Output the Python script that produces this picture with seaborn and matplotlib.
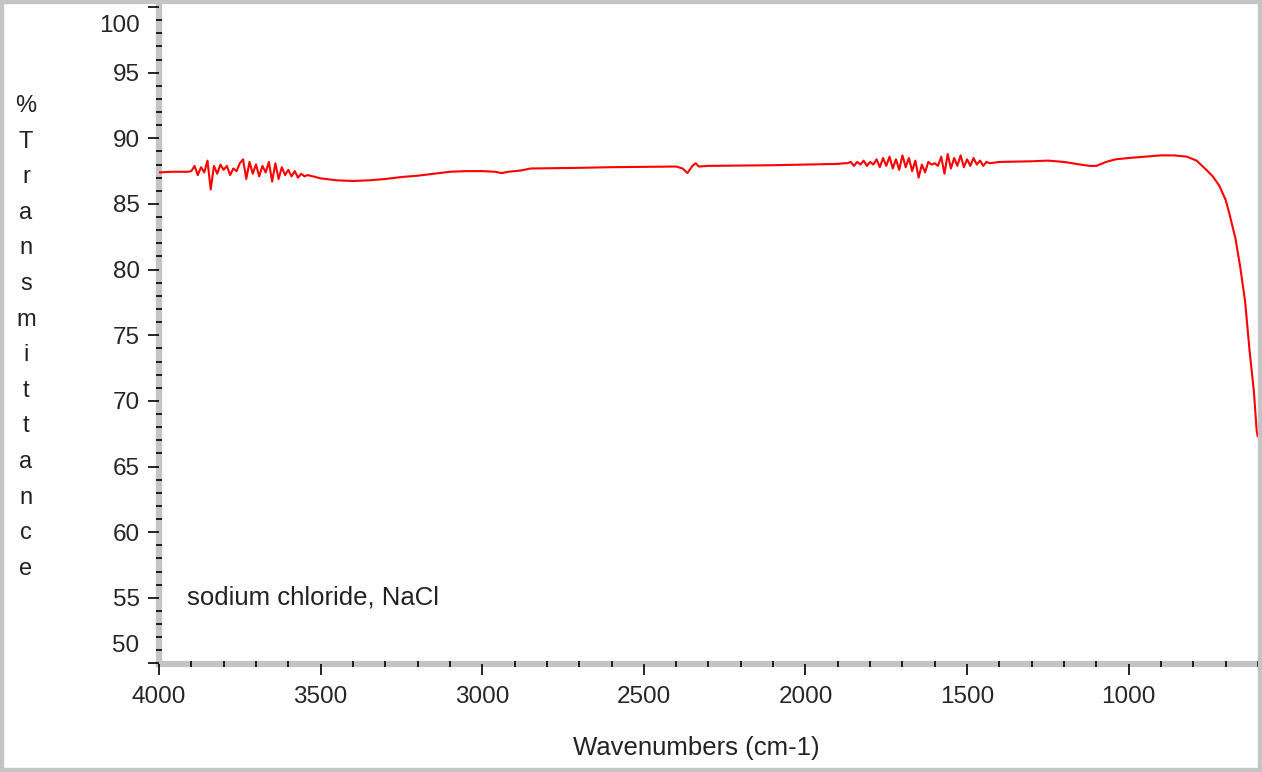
import seaborn as sns
import pandas as pd
import numpy as np
import matplotlib.pyplot as plt
from matplotlib.patches import Rectangle
from matplotlib.ticker import MultipleLocator
from matplotlib.transforms import ScaledTranslation

# smooth part of the spectrum (wavenumber, %T)
wn_start = [4000, 3960, 3910]
t_start = [87.4, 87.45, 87.45]

# noisy band 1 (O-H region)
wn_noise1 = [3900, 3890, 3880, 3870, 3860, 3850, 3840, 3830, 3820, 3810,
             3800, 3790, 3780, 3770, 3760, 3750, 3740, 3730, 3720, 3710,
             3700, 3690, 3680, 3670, 3660, 3650, 3640, 3630, 3620, 3610,
             3600, 3590, 3580, 3570, 3560, 3550, 3540]
t_noise1 = [87.5, 87.9, 87.2, 87.8, 87.4, 88.3, 86.1, 87.9, 87.3, 88.0,
            87.6, 87.9, 87.2, 87.7, 87.5, 88.1, 88.4, 86.9, 88.2, 87.3,
            88.0, 87.1, 87.9, 87.4, 88.2, 86.7, 88.1, 86.9, 87.8, 87.2,
            87.6, 87.1, 87.5, 87.0, 87.3, 87.1, 87.2]

wn_mid = [3500, 3450, 3400, 3350, 3300, 3250, 3200, 3150, 3100, 3050,
          3000, 2960, 2940, 2920, 2880, 2850, 2700, 2600, 2400, 2380,
          2365, 2350, 2340, 2330, 2300, 2100, 2000, 1900, 1880]
t_mid = [86.95, 86.8, 86.75, 86.8, 86.9, 87.05, 87.15, 87.3, 87.45, 87.5,
         87.5, 87.45, 87.35, 87.45, 87.55, 87.7, 87.75, 87.8, 87.85, 87.7,
         87.35, 87.9, 88.1, 87.85, 87.9, 87.95, 88.0, 88.05, 88.1]

# noisy band 2 (water bending region)
wn_noise2 = [1870, 1860, 1850, 1840, 1830, 1820, 1810, 1800, 1790, 1780,
             1770, 1760, 1750, 1740, 1730, 1720, 1710, 1700, 1690, 1680,
             1670, 1660, 1650, 1640, 1630, 1620, 1610, 1600, 1590, 1580,
             1570, 1560, 1550, 1540, 1530, 1520, 1510, 1500, 1490, 1480,
             1470, 1460, 1450, 1440, 1430]
t_noise2 = [88.1, 88.2, 87.9, 88.2, 88.0, 88.3, 87.9, 88.2, 88.0, 88.4,
            87.8, 88.5, 87.9, 88.6, 87.7, 88.4, 87.6, 88.7, 87.8, 88.5,
            87.5, 88.3, 87.0, 88.0, 87.4, 88.2, 88.0, 88.1, 87.9, 88.6,
            87.3, 88.8, 87.7, 88.5, 87.9, 88.7, 87.8, 88.4, 87.9, 88.5,
            88.0, 88.3, 87.9, 88.2, 88.1]

wn_end = [1400, 1300, 1250, 1200, 1150, 1120, 1100, 1070, 1040, 1000,
          950, 900, 860, 820, 790, 760, 740, 720, 700, 690,
          670, 655, 640, 626, 613, 604, 601]
t_end = [88.2, 88.25, 88.3, 88.2, 88.0, 87.9, 87.9, 88.2, 88.4, 88.5,
         88.6, 88.7, 88.7, 88.6, 88.3, 87.6, 87.1, 86.4, 85.3, 84.4,
         82.4, 80.2, 77.6, 73.8, 70.8, 67.7, 67.3]

y_letters = ['%', 'T', 'r', 'a', 'n', 's', 'm', 'i', 't', 't', 'a', 'n', 'c', 'e']
sample_name = 'sodium chloride, NaCl'

df = pd.DataFrame({
    'wn': wn_start + wn_noise1 + wn_mid + wn_noise2 + wn_end,
    'T': t_start + t_noise1 + t_mid + t_noise2 + t_end,
})

sns.set_style('white')
plt.rcParams['font.family'] = ['Liberation Sans', 'DejaVu Sans']

W, H = 1262, 772
fig = plt.figure(figsize=(W / 100, H / 100), dpi=100)
ax = fig.add_axes([159 / W, 1 - 663.5 / H, (1258 - 159) / W, (663.5 - 7) / H])

sns.lineplot(data=df, x='wn', y='T', ax=ax, color='#ff0000', linewidth=1.5,
             estimator=None, sort=False)

ax.set_xlim(4000, 600)
ax.set_ylim(50, 100)
ax.xaxis.set_major_locator(MultipleLocator(500))
ax.xaxis.set_minor_locator(MultipleLocator(100))
ax.yaxis.set_major_locator(MultipleLocator(5))
ax.yaxis.set_minor_locator(MultipleLocator(1))

for s in ['top', 'right']:
    ax.spines[s].set_visible(False)
for s in ['left', 'bottom']:
    ax.spines[s].set_color('#c4c4c4')
    ax.spines[s].set_linewidth(4.5)
    ax.spines[s].set_zorder(0)

ax.tick_params(which='major', direction='out', length=8, width=1.2, color='black',
               labelsize=17.5, pad=6, left=True, bottom=True)
ax.tick_params(axis='x', which='major', pad=8)
ax.tick_params(which='minor', direction='inout', length=4, width=1.2, color='black',
               left=True, bottom=True)
ax.set_xlabel('')
ax.set_ylabel('')

# first and last y labels are nudged inside the axis like in the original
fig.canvas.draw()
for lab in ax.get_yticklabels():
    if lab.get_text() == '100':
        lab.set_transform(lab.get_transform() + ScaledTranslation(0, -0.17, fig.dpi_scale_trans))
    elif lab.get_text() == '50':
        lab.set_transform(lab.get_transform() + ScaledTranslation(0, 0.20, fig.dpi_scale_trans))

ax.text(0.0255, 0.1, sample_name, transform=ax.transAxes, fontsize=18.5,
        color='#222222', va='center', ha='left')

fig.text(696 / W, 1 - 748 / H, 'Wavenumbers (cm-1)', fontsize=18.5,
         ha='center', va='center', color='#222222')
fig.text(26 / W, 1 - 337.5 / H, '\n'.join(y_letters), fontsize=17,
         ha='center', va='center', linespacing=1.8, color='#222222')

fig.patches.append(Rectangle((0, 0), 1, 1, transform=fig.transFigure, fill=False,
                             edgecolor='#c4c4c4', linewidth=6, zorder=10))

fig.savefig('out.png', dpi=100, facecolor='white')
